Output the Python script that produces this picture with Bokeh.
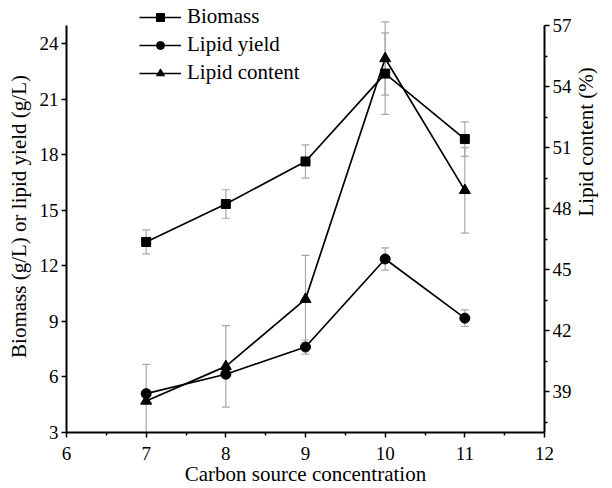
import math
from bokeh.plotting import figure
from bokeh.models import (Range1d, LinearAxis, FixedTicker, Whisker, ColumnDataSource,
                          Legend, LegendItem, TeeHead)
from bokeh.embed import file_html
from bokeh.resources import INLINE

# ---- data ----
conc = [7, 8, 9, 10, 11]
biomass = [13.3, 15.35, 17.65, 22.4, 18.86]
biomass_err = [0.65, 0.77, 0.9, 2.2, 0.93]
lipid_yield = [5.1, 6.15, 7.62, 12.38, 9.18]
lipid_yield_err = [0.2, 0.2, 0.38, 0.6, 0.45]
lipid_content = [38.55, 40.25, 43.55, 55.38, 48.9]
lipid_content_err = [1.8, 2.0, 2.15, 1.8, 2.1]

x_ticks = [6, 7, 8, 9, 10, 11, 12]
left_ticks = [3, 6, 9, 12, 15, 18, 21, 24]
right_ticks = [39, 42, 45, 48, 51, 54, 57]

FONT = "'Liberation Serif', 'Times New Roman', serif"
ERR = "#a8a8a8"

# the axes end at 25 (left) / 57 (right); the frame reaches a little higher so the
# legend above the axes' ends stays visible
p = figure(width=612, height=488, output_backend="svg", toolbar_location=None,
           x_range=Range1d(6, 12), y_range=Range1d(3, 26.35),
           min_border_left=66, min_border_right=55, min_border_top=0, min_border_bottom=56)
p.outline_line_color = None
p.xgrid.visible = False
p.ygrid.visible = False
p.extra_y_ranges = {"right": Range1d(37, 58.23)}

def style_axis(ax):
    ax.axis_line_color = "black"
    ax.axis_line_width = 2
    ax.major_tick_line_color = "black"
    ax.major_tick_line_width = 1.5
    ax.major_tick_out = 5
    ax.major_tick_in = 0
    ax.minor_tick_line_color = "black"
    ax.minor_tick_line_width = 1.5
    ax.minor_tick_out = 3
    ax.minor_tick_in = 0
    ax.major_label_text_font = FONT
    ax.major_label_text_font_size = "19px"
    ax.major_label_text_color = "black"
    ax.major_label_standoff = 3
    ax.axis_label_text_font = FONT
    ax.axis_label_text_font_size = "21px"
    ax.axis_label_text_font_style = "normal"
    ax.axis_label_text_color = "black"

xa = p.xaxis[0]
xa.ticker = FixedTicker(ticks=x_ticks,
                        minor_ticks=[(a + b) / 2 for a, b in zip(x_ticks[:-1], x_ticks[1:])])
xa.axis_label = "Carbon source concentration"
style_axis(xa)
xa.major_label_standoff = 9
xa.axis_label_standoff = -1

ya = p.yaxis[0]
ya.ticker = FixedTicker(ticks=left_ticks, minor_ticks=[])
ya.axis_label = "Biomass (g/L) or lipid yield (g/L)"
ya.bounds = (3, 25)
style_axis(ya)
ya.minor_tick_line_color = None
ya.axis_label_standoff = 6

ra = LinearAxis(y_range_name="right",
                ticker=FixedTicker(ticks=right_ticks,
                                   minor_ticks=[t - 1.5 for t in right_ticks]),
                axis_label="Lipid content (%)", bounds=(37, 57))
style_axis(ra)
ra.major_label_standoff = 3
ra.axis_label_standoff = 11
ra.axis_label_text_line_height = 0.5
ra.axis_label_orientation = math.pi / 2
p.add_layout(ra, "right")

# ---- error bars ----
def whisker(vals, errs, rng="default"):
    src = ColumnDataSource(dict(x=conc,
                                upper=[v + e for v, e in zip(vals, errs)],
                                lower=[v - e for v, e in zip(vals, errs)]))
    w = Whisker(base="x", upper="upper", lower="lower", source=src,
                line_color=ERR, line_width=1.2, y_range_name=rng,
                upper_head=TeeHead(size=8, line_color=ERR, line_width=1.2),
                lower_head=TeeHead(size=8, line_color=ERR, line_width=1.2))
    p.add_layout(w)

whisker(biomass, biomass_err)
whisker(lipid_yield, lipid_yield_err)
whisker(lipid_content, lipid_content_err, "right")

# ---- series ----
l1 = p.line(conc, biomass, line_color="black", line_width=1.7)
s1 = p.scatter(conc, biomass, marker="square", size=9, color="black")
l2 = p.line(conc, lipid_yield, line_color="black", line_width=1.7)
s2 = p.scatter(conc, lipid_yield, marker="circle", size=10, color="black")
l3 = p.line(conc, lipid_content, line_color="black", line_width=1.7, y_range_name="right")
s3 = p.scatter(conc, lipid_content, marker="triangle", size=11, color="black", y_range_name="right")

legend = Legend(items=[LegendItem(label="Biomass", renderers=[l1, s1]),
                       LegendItem(label="Lipid yield", renderers=[l2, s2]),
                       LegendItem(label="Lipid content", renderers=[l3, s3])],
                location=(73, 347), padding=0, margin=0,
                border_line_color=None, background_fill_alpha=0,
                glyph_width=42, glyph_height=20, label_height=20, spacing=3,
                label_standoff=6, label_text_font=FONT, label_text_font_size="21px",
                label_text_color="black")
p.add_layout(legend)

open("out.html", "w").write(file_html(p, INLINE))
